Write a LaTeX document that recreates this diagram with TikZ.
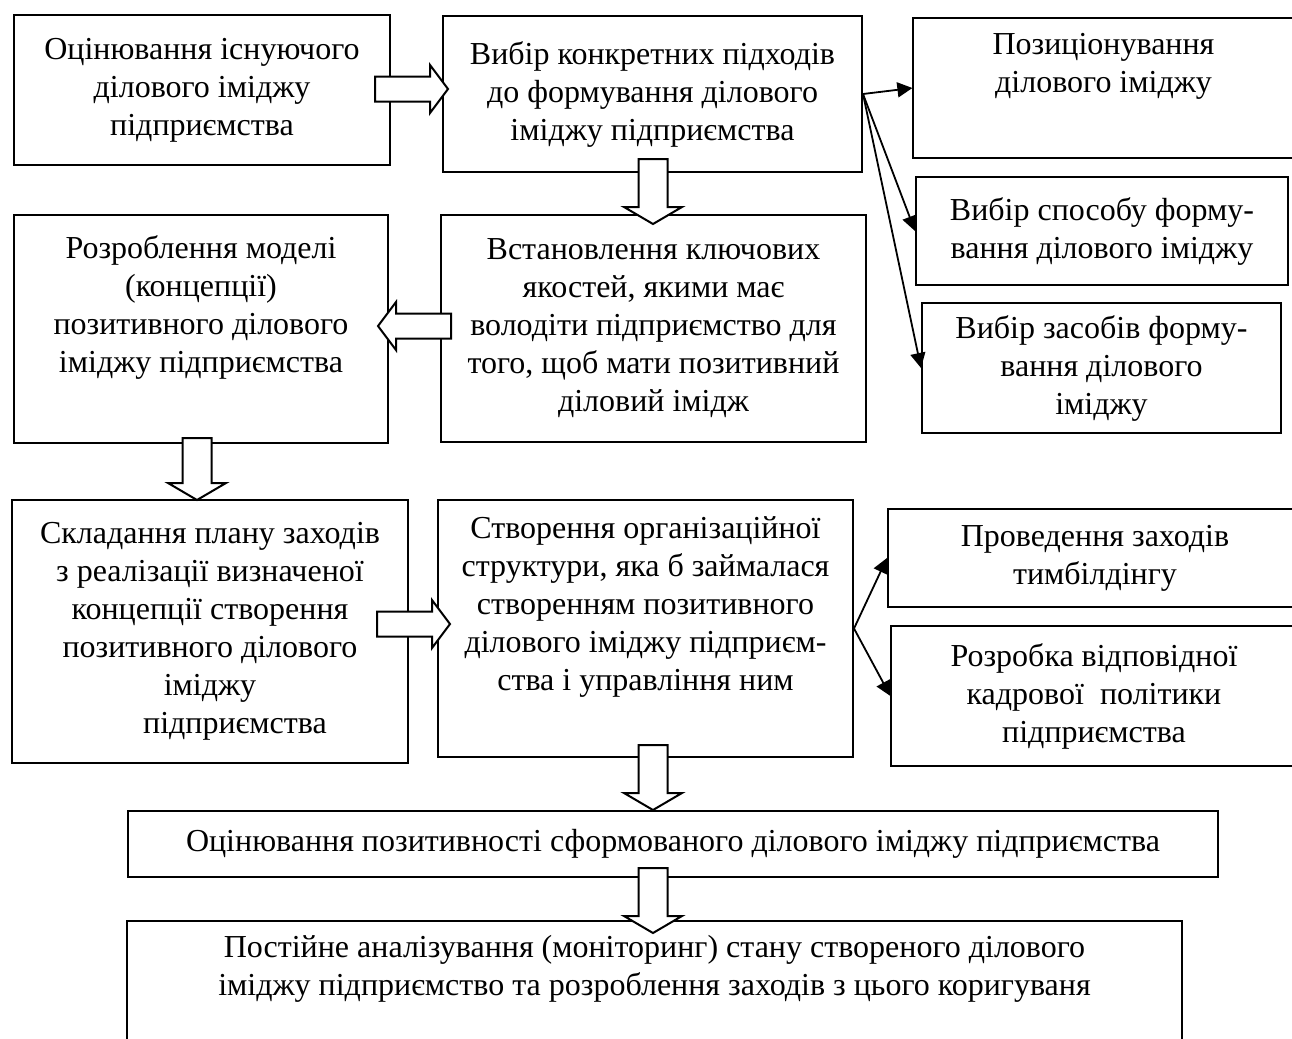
\documentclass[tikz,border=0pt]{standalone}
\usepackage{fontspec}
\setmainfont{Liberation Serif}
\usetikzlibrary{calc,arrows.meta}
\newcommand{\barR}[2]{\draw[blk] ($(#1)+(0,-12.5)$) -- ($(#2)+(-18,-12.5)$) -- ($(#2)+(-18,-24)$) -- (#2) -- ($(#2)+(-18,24)$) -- ($(#2)+(-18,12.5)$) -- ($(#1)+(0,12.5)$) -- cycle;}
\newcommand{\barL}[2]{\draw[blk] ($(#1)+(0,-12.5)$) -- ($(#2)+(18,-12.5)$) -- ($(#2)+(18,-24)$) -- (#2) -- ($(#2)+(18,24)$) -- ($(#2)+(18,12.5)$) -- ($(#1)+(0,12.5)$) -- cycle;}
\newcommand{\barD}[2]{\draw[blk] ($(#1)+(-14.5,0)$) -- ($(#2)+(-14.5,-17)$) -- ($(#2)+(-29,-17)$) -- (#2) -- ($(#2)+(29,-17)$) -- ($(#2)+(14.5,-17)$) -- ($(#1)+(14.5,0)$) -- cycle;}
\begin{document}
\begin{tikzpicture}[x=0.5pt,y=-0.5pt,
  box/.style={draw, line width=1pt, inner sep=0pt, align=center,
    font=\fontsize{16pt}{19pt}\selectfont},
  thinbox/.style={box, line width=0.6pt},
  blk/.style={draw, fill=white, line width=1pt, line join=miter},
  arr/.style={line width=0.9pt, -{Triangle[length=7.5pt,width=7.5pt]}}]
\useasboundingbox (0,0) rectangle (1292,1039);
\clip (0,0) rectangle (1292,1039);
% boxes
\node[box, minimum width=188pt, minimum height=75pt] (A) at (202,90)
  {Оцінювання існуючого\\ділового іміджу\\підприємства};
\node[box, minimum width=209.5pt, minimum height=78pt] (B) at (652.5,94)
  {Вибір конкретних підходів\\до формування ділового\\іміджу підприємства};
\node[thinbox, minimum width=190.5pt, minimum height=70pt] (C) at (1103.5,88)
  {Позиціонування\\ділового іміджу\\ \strut};
\node[box, minimum width=186pt, minimum height=54pt] (D) at (1102,231)
  {Вибір способу форму-\\вання ділового іміджу};
\node[box, minimum width=179.5pt, minimum height=65pt] (E) at (1101.5,368)
  {Вибір засобів форму-\\вання ділового\\іміджу};
\node[box, minimum width=187pt, minimum height=114pt] (F) at (201,329)
  {Розроблення моделі\\(концепції)\\позитивного ділового\\іміджу підприємства\\ \strut};
\node[box, minimum width=212.5pt, minimum height=113.5pt] (G) at (653.5,328.5)
  {Встановлення ключових\\якостей, якими має\\володіти підприємство для\\того, щоб мати позитивний\\діловий імідж};
\node[box, minimum width=198pt, minimum height=131.5pt] (H) at (210,631.5)
  {Складання плану заходів\\з реалізації визначеної\\концепції створення\\позитивного ділового\\іміджу\\\hspace*{25pt}підприємства};
\node[box, minimum width=207.5pt, minimum height=128.5pt] (I) at (645.5,628.5)
  {Створення організаційної\\структури, яка б займалася\\створенням позитивного\\ділового іміджу підприєм-\\ства і управління ним\\ \strut};
\node[box, minimum width=207pt, minimum height=49pt] (J) at (1095,558)
  {Проведення заходів\\тимбілдінгу};
\node[thinbox, minimum width=203pt, minimum height=70pt] (K) at (1094,696)
  {Розробка відповідної\\кадрової~~політики\\підприємства};
\node[box, minimum width=545pt, minimum height=33pt] (L) at (673,844)
  {Оцінювання позитивності сформованого ділового іміджу підприємства};
\node[box, minimum width=527.5pt, minimum height=69.5pt] (M) at (654.5,990.5)
  {Постійне аналізування (моніторинг) стану створеного ділового\\іміджу підприємство та розроблення заходів з цього коригуваня\\ \strut};
% block arrows
\coordinate (ab1) at (375,89);  \coordinate (ab2) at (448,89);
\coordinate (bg1) at (653,159); \coordinate (bg2) at (653,224);
\coordinate (gf1) at (451,326); \coordinate (gf2) at (378,326);
\coordinate (fh1) at (197,438); \coordinate (fh2) at (197,500);
\coordinate (hi1) at (377,624); \coordinate (hi2) at (450,624);
\coordinate (il1) at (653,745); \coordinate (il2) at (653,810);
\coordinate (lm1) at (653,868); \coordinate (lm2) at (653,933);
\barR{ab1}{ab2}
\barD{bg1}{bg2}
\barL{gf1}{gf2}
\barD{fh1}{fh2}
\barR{hi1}{hi2}
\barD{il1}{il2}
\barD{lm1}{lm2}
% line arrows
\draw[arr] (B.east) -- (C.west);
\draw[arr] (B.east) -- (D.west);
\draw[arr] (B.east) -- (E.west);
\draw[arr] (I.east) -- (J.west);
\draw[arr] (I.east) -- (K.west);
\end{tikzpicture}
\end{document}
